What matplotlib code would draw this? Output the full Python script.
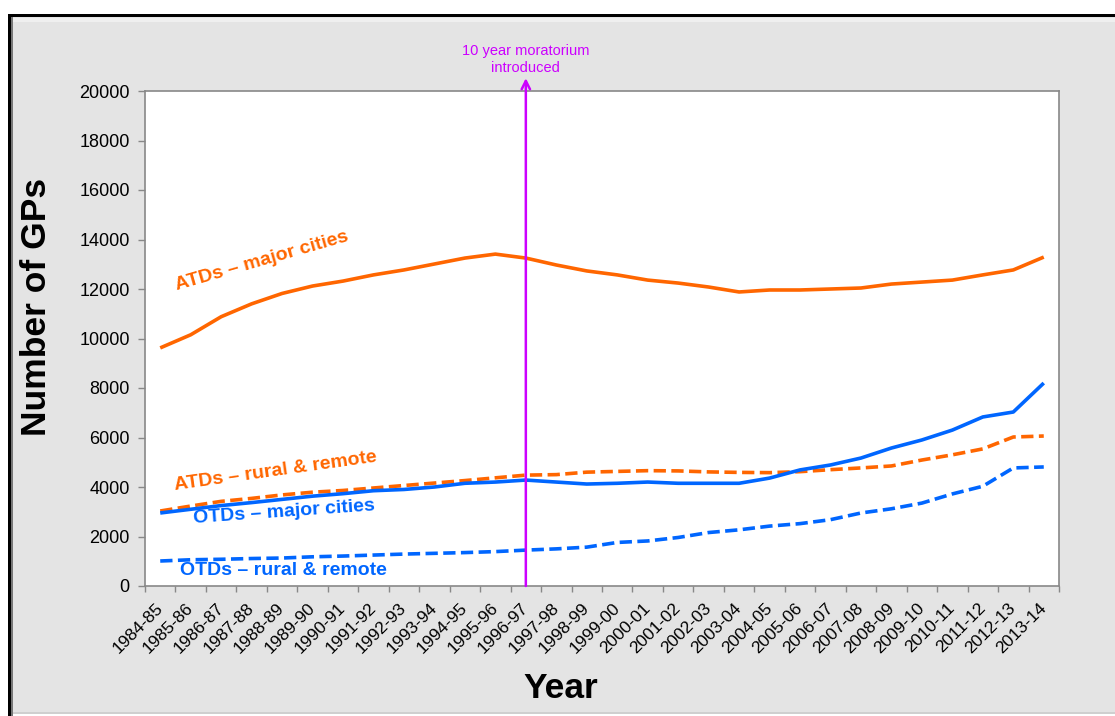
import matplotlib
matplotlib.use('Agg')
import matplotlib.pyplot as plt
from matplotlib.patches import Rectangle

# ---------------- data ----------------
years = ['1984-85', '1985-86', '1986-87', '1987-88', '1988-89', '1989-90',
         '1990-91', '1991-92', '1992-93', '1993-94', '1994-95', '1995-96',
         '1996-97', '1997-98', '1998-99', '1999-00', '2000-01', '2001-02',
         '2002-03', '2003-04', '2004-05', '2005-06', '2006-07', '2007-08',
         '2008-09', '2009-10', '2010-11', '2011-12', '2012-13', '2013-14']

atd_major = [9620, 10150, 10880, 11400, 11820, 12120, 12320, 12570, 12770, 13010,
             13250, 13410, 13250, 12970, 12730, 12570, 12360, 12240, 12080, 11880,
             11960, 11960, 12000, 12040, 12200, 12280, 12360, 12570, 12770, 13290]

atd_rural = [3030, 3230, 3420, 3540, 3680, 3790, 3860, 3960, 4060, 4160,
             4260, 4370, 4480, 4500, 4600, 4630, 4660, 4650, 4610, 4590,
             4580, 4620, 4700, 4770, 4850, 5090, 5300, 5540, 6020, 6060]

otd_major = [2950, 3100, 3250, 3370, 3500, 3630, 3730, 3850, 3900, 4000,
             4150, 4200, 4280, 4200, 4120, 4150, 4200, 4150, 4150, 4150,
             4360, 4690, 4890, 5170, 5575, 5900, 6300, 6830, 7030, 8200]

otd_rural = [1010, 1060, 1080, 1110, 1130, 1180, 1210, 1250, 1290, 1320,
             1350, 1390, 1450, 1500, 1570, 1760, 1820, 1960, 2160, 2270,
             2420, 2520, 2680, 2950, 3120, 3350, 3720, 4030, 4770, 4810]

y_ticks = [0, 2000, 4000, 6000, 8000, 10000, 12000, 14000, 16000, 18000, 20000]
moratorium_year = '1996-97'

ORANGE = '#ff6600'
BLUE = '#0066ff'
MAGENTA = '#cc00ff'

plt.rcParams['font.family'] = ['Liberation Sans', 'DejaVu Sans']

W, H = 1115, 716
fig = plt.figure(figsize=(W / 100, H / 100), dpi=100)
fig.patch.set_facecolor('white')


def fx(px):
    return px / W


def fy(py):
    return 1 - py / H


def panel(x0, y0, x1, y1, color, z):
    fig.patches.append(Rectangle((fx(x0), fy(y1)), (x1 - x0) / W, (y1 - y0) / H,
                                 transform=fig.transFigure, facecolor=color,
                                 edgecolor='none', zorder=z))


# grey panel with black top/left border
panel(10, 16, 1115, 713, '#e4e4e4', -10)
panel(12, 18, 1115, 22, '#efefef', -9)
panel(10, 712, 1115, 714, '#cfcfcf', -9)
panel(8, 14, 1115, 17, 'black', -8)
panel(8, 14, 11, 716, 'black', -8)
panel(11, 17, 13, 716, '#777777', -8)

ax = fig.add_axes([fx(145), fy(586), fx(1059) - fx(145), fy(91) - fy(586)])
ax.set_facecolor('white')

lw = 2.6
ax.plot(years, atd_major, color=ORANGE, lw=lw, solid_capstyle='butt')
ax.plot(years, atd_rural, color=ORANGE, lw=lw, linestyle=(0, (3.4, 1.5)))
ax.plot(years, otd_major, color=BLUE, lw=lw, solid_capstyle='butt')
ax.plot(years, otd_rural, color=BLUE, lw=lw, linestyle=(0, (3.4, 1.5)))

ax.set_xlim(-0.5, len(years) - 0.5)
ax.set_ylim(0, 20000)
ax.set_yticks(y_ticks)
ax.set_yticklabels([str(v) for v in y_ticks], fontsize=13)

ax.set_xticks(range(len(years)))
ax.set_xticklabels(years, rotation=45, ha='right', rotation_mode='anchor',
                   va='center', fontsize=12.5)
ax.set_xticks([i - 0.5 for i in range(len(years) + 1)], minor=True)
ax.tick_params(axis='x', which='major', length=0, pad=14)
ax.tick_params(axis='x', which='minor', length=4.5, color='#888888', width=1)
ax.tick_params(axis='y', length=5, color='#888888', width=1, pad=6)

for s in ax.spines.values():
    s.set_color('#888888')
    s.set_linewidth(1.2)

# moratorium arrow
mx = years.index(moratorium_year)
ax.annotate('', xy=(mx, 20520), xytext=(mx, 0),
            arrowprops=dict(arrowstyle='->,head_length=0.6,head_width=0.3',
                            color=MAGENTA, lw=1.8, shrinkA=0, shrinkB=0),
            annotation_clip=False)
ax.text(mx, 20650, '10 year moratorium\nintroduced', color=MAGENTA,
        ha='center', va='bottom', fontsize=10.5, linespacing=1.3)

# series labels
lab_kw = dict(fontsize=14, fontweight='bold', ha='center', va='center',
              rotation_mode='anchor')
ax.text(3.34, 13130, 'ATDs – major cities', color=ORANGE, rotation=16, **lab_kw)
ax.text(3.77, 4650, 'ATDs – rural & remote', color=ORANGE, rotation=8, **lab_kw)
ax.text(4.06, 2990, 'OTDs – major cities', color=BLUE, rotation=4, **lab_kw)
ax.text(4.06, 610, 'OTDs – rural & remote', color=BLUE, rotation=0, **lab_kw)

fig.text(fx(561), fy(688), 'Year', fontsize=25.5, fontweight='bold',
         ha='center', va='center')
fig.text(fx(37), fy(307), 'Number of GPs', fontsize=25.5, fontweight='bold',
         ha='center', va='center', rotation=90)

fig.savefig('out.png', dpi=100, facecolor=fig.get_facecolor())
